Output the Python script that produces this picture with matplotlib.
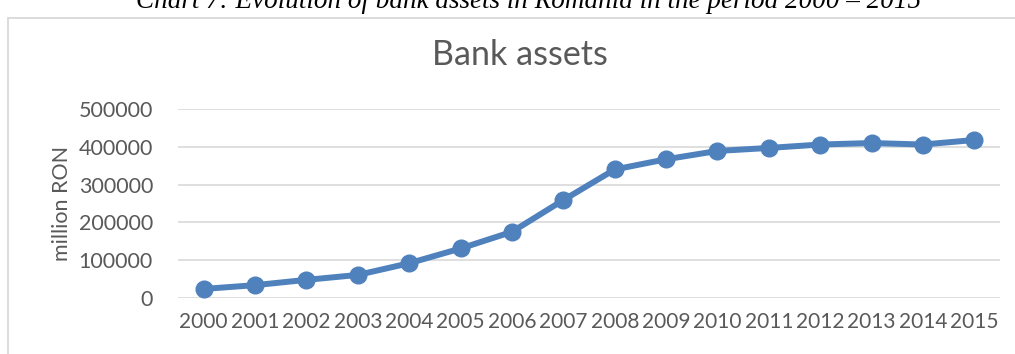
import matplotlib
matplotlib.use("Agg")
import matplotlib.pyplot as plt
from matplotlib.patches import Rectangle

years = ["2000", "2001", "2002", "2003", "2004", "2005", "2006", "2007",
         "2008", "2009", "2010", "2011", "2012", "2013", "2014", "2015"]
assets = [24000, 34000, 48000, 61000, 92000, 131000, 175000, 259000,
          340000, 367000, 389000, 397000, 406000, 410000, 406000, 418000]
y_ticks = [0, 100000, 200000, 300000, 400000, 500000]

W, H = 1015, 354
fig = plt.figure(figsize=(W / 100, H / 100), dpi=100)
fig.patch.set_facecolor("white")

# chart border (cut at right/bottom)
fig.patches.append(Rectangle((8 / W, -0.05), 1.2, (H - 18) / H + 0.05,
                             transform=fig.transFigure, fill=False,
                             edgecolor="#d9d9d9", linewidth=1.3))

# caption (cut off at top)
fig.text(529 / W, 1 - 8 / H, "Chart 7: Evolution of bank assets in Romania in the period 2000 \u2013 2015",
         ha="center", va="baseline", fontsize=19.5, style="italic",
         family="Liberation Serif", color="black")

ax = fig.add_axes([178 / W, (H - 298) / H, (1000 - 178) / W, (298 - 109) / H])
x = list(range(len(years)))
ax.plot(x, assets, color="#4F81BD", linewidth=4.3, marker="o", markersize=12,
        solid_capstyle="round", solid_joinstyle="round", zorder=3)
ax.set_xlim(-0.5, len(years) - 0.5)
ax.set_ylim(0, 500000)
ax.set_yticks(y_ticks)
ax.set_yticklabels([str(v) for v in y_ticks])
ax.set_xticks(x)
ax.set_xticklabels(years)
ax.grid(axis="y", color="#d9d9d9", linewidth=1.2)
ax.set_axisbelow(True)
for s in ax.spines.values():
    s.set_visible(False)
ax.tick_params(length=0, colors="#595959")
ax.tick_params(axis="y", pad=18, labelsize=15.5)
ax.tick_params(axis="x", pad=10, labelsize=15)
for lbl in ax.get_xticklabels() + ax.get_yticklabels():
    lbl.set_family("Lato")
ax.set_ylabel("million RON", fontsize=15.5, family="Lato", color="#595959", labelpad=5)

fig.text(520 / W, 1 - 65 / H, "Bank assets", ha="center", va="baseline",
         fontsize=24.5, family="Lato", color="#595959")

fig.savefig("out.png", dpi=100)
